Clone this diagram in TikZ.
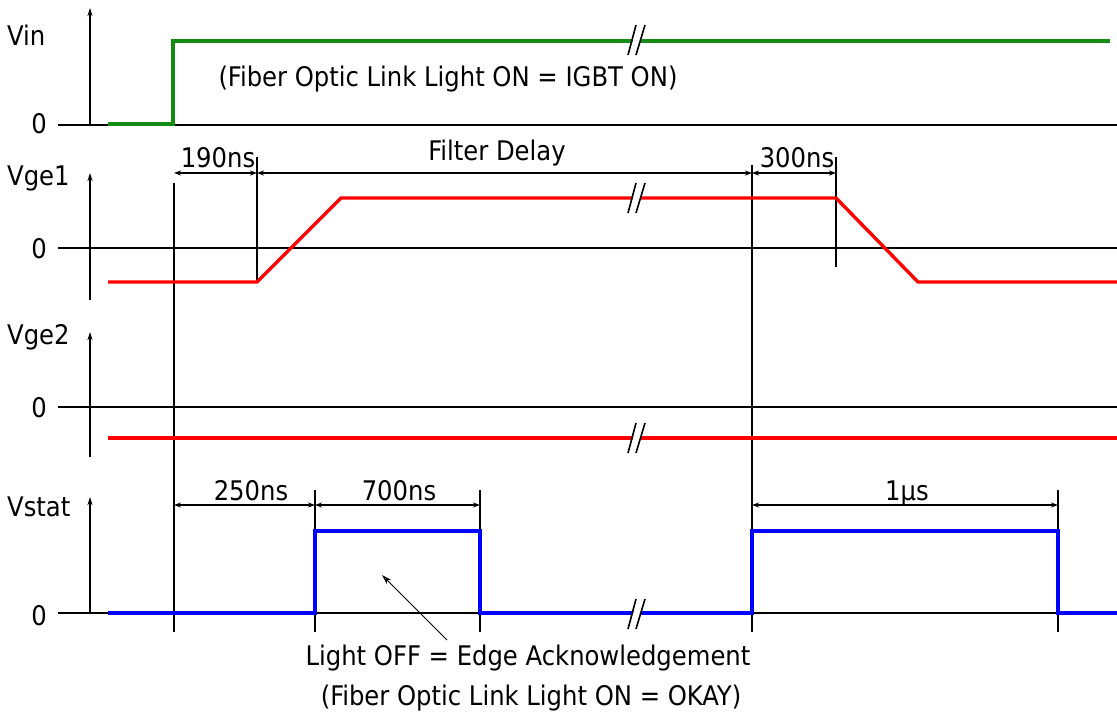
\documentclass[tikz,border=0pt]{standalone}
\usepackage{fontspec}
\setmainfont{DejaVu Sans Condensed}
\usetikzlibrary{arrows.meta}
\begin{document}
\begin{tikzpicture}[x=1pt,y=-1pt,
  txt/.style={inner sep=0pt,font=\fontsize{27}{31}\selectfont},
  ln/.style={line width=1.5pt,black},
  axis/.style={ln,-{Stealth[length=8pt,width=5pt]}},
  dim/.style={line width=1.2pt,black,{Stealth[length=7pt,width=5pt]}-{Stealth[length=7pt,width=5pt]}},
  sig/.style={line width=3.4pt,line join=miter},
  vin/.style={sig,draw={rgb,255:red,20;green,140;blue,20}},
  vge/.style={sig,draw={rgb,255:red,255;green,0;blue,0}},
  vst/.style={sig,draw={rgb,255:red,0;green,0;blue,255}},
  brk/.pic={
    \fill[white] (-7,15)--(1,-15)--(9,-15)--(1,15)--cycle;
    \draw[line width=1.6pt] (-8,15)--(0,-15) (0,15)--(9,-15);
  }
]
\useasboundingbox (0,0) rectangle (1117,713);

% ---------- zero lines and axes ----------
\draw[ln] (58,125) -- (1117,125);
\draw[ln] (58,248) -- (1117,248);
\draw[ln] (58,407) -- (1117,407);
\draw[ln] (58,613) -- (1117,613);
\draw[axis] (90,125) -- (90,8);
\draw[axis] (90,300) -- (90,173);
\draw[axis] (90,457) -- (90,332);
\draw[axis] (90,613) -- (90,497);

% ---------- vertical reference lines ----------
\draw[ln] (174,183) -- (174,632);
\draw[ln] (257,157) -- (257,282);
\draw[ln] (752,165) -- (752,632);
\draw[ln] (836,157) -- (836,267);
\draw[ln] (315,490) -- (315,632);
\draw[ln] (480,490) -- (480,632);
\draw[ln] (1058,490) -- (1058,632);

% ---------- dimension lines ----------
\draw[dim] (174,173) -- (257,173);
\draw[dim] (257,173) -- (752,173);
\draw[dim] (752,173) -- (836,173);
\draw[dim] (174,505) -- (315,505);
\draw[dim] (315,505) -- (480,505);
\draw[dim] (752,505) -- (1058,505);

% ---------- signals ----------
\draw[vin] (108,124) -- (173,124) -- (173,41) -- (1110,41);
\draw[vge] (108,282) -- (257,282) -- (341,198) -- (836,198) -- (918,282) -- (1117,282);
\draw[vge] (108,438) -- (1117,438);
\draw[vst] (108,613) -- (315,613) -- (315,531) -- (480,531) -- (480,613)
  -- (752,613) -- (752,531) -- (1058,531) -- (1058,613) -- (1117,613);

% ---------- break marks ----------
\pic at (636,40) {brk};
\pic at (636,198) {brk};
\pic at (636,438) {brk};
\pic at (636,614) {brk};

% ---------- labels ----------
\node[txt,anchor=base west] (lvin) at (7,45) {Vin};
\node[txt,anchor=base east] (z1) at (47,133) {0};
\node[txt,anchor=base west] (lvge1) at (7,185) {Vge1};
\node[txt,anchor=base east] (z2) at (47,258) {0};
\node[txt,anchor=base west] (lvge2) at (7,344) {Vge2};
\node[txt,anchor=base east] (z3) at (47,417) {0};
\node[txt,anchor=base west] (lvst) at (7,516) {Vstat};
\node[txt,anchor=base east] (z4) at (47,625) {0};

\node[txt,anchor=base] (n190) at (218,167) {190ns};
\node[txt,anchor=base] (nfd) at (497,160) {Filter Delay};
\node[txt,anchor=base] (n300) at (797,167) {300ns};
\node[txt,anchor=base] (n250) at (251,500) {250ns};
\node[txt,anchor=base] (n700) at (399,500) {700ns};
\node[txt,anchor=base] (n1us) at (907,500) {1µs};

\node[txt,anchor=base] (note1) at (448,86) {(Fiber Optic Link Light ON = IGBT ON)};
\node[txt,anchor=base] (note2) at (528,665) {Light OFF = Edge Acknowledgement};
\node[txt,anchor=base] (note3) at (531,705) {(Fiber Optic Link Light ON = OKAY)};

\coordinate (ptr) at (382,575);
\draw[line width=1pt,-{Stealth[length=10pt,width=6pt,open]}] (447,640) -- (ptr);
\end{tikzpicture}
\end{document}
